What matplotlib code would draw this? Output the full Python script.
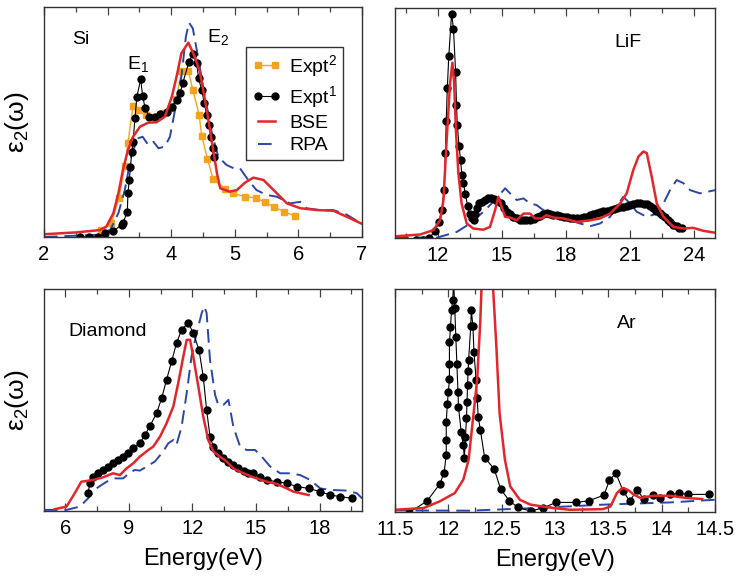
# eps2 spectra: Si, LiF, diamond, Ar  (expt vs BSE vs RPA)
import matplotlib
matplotlib.use('Agg')
import matplotlib.pyplot as plt
from matplotlib.ticker import MultipleLocator, FuncFormatter

plt.rcParams['font.family'] = ['Liberation Sans', 'DejaVu Sans']
plt.rcParams['mathtext.fontset'] = 'custom'
plt.rcParams['mathtext.rm'] = 'Liberation Sans'
plt.rcParams['mathtext.it'] = 'Liberation Sans:italic'

RED = '#e3262b'
BLUE = '#2b46a8'
ORANGE = '#f5a31f'

# ---- Si (arb. units, 0-100 = full axis height)
si_ex2_x = [2.90, 3.06, 3.18, 3.27, 3.32, 3.40, 3.48, 3.60, 3.74, 3.87, 3.99, 4.08, 4.16, 4.27,
            4.34, 4.44, 4.48, 4.57, 4.66, 4.85, 4.97, 5.16, 5.33, 5.48, 5.62, 5.78, 5.95]
si_ex2_y = [3, 6, 17, 31, 41, 57, 55, 53, 52, 54, 56, 60, 72, 72,
            64, 53, 44, 34, 25, 21, 19, 17.5, 17, 15, 13, 11, 9]
si_ex1_x = [2.56, 2.71, 2.85, 2.96, 3.09, 3.22, 3.24, 3.31, 3.32, 3.34, 3.36, 3.38, 3.40, 3.43,
            3.46, 3.52, 3.55, 3.59, 3.65, 3.74, 3.82, 3.93, 4.01, 4.09, 4.14, 4.18, 4.28, 4.34,
            4.40, 4.43, 4.48, 4.52, 4.56, 4.60, 4.62, 4.65, 4.67]
si_ex1_y = [0, 0, 0.2, 1.6, 2.6, 5.2, 6, 11, 19, 24.8, 30.6, 37, 41.2, 51.6,
            61, 68.6, 61.4, 56, 52.3, 52, 53.3, 54.5, 56.7, 59.6, 62.5, 66.8, 76.2, 79.6,
            75.5, 69, 63.9, 58.1, 53, 48.7, 43.6, 38.6, 34.9]
si_bse_x = [2.0, 2.51, 2.88, 2.98, 3.09, 3.17, 3.24, 3.32, 3.40, 3.51, 3.64, 3.77, 3.90, 4.01,
            4.09, 4.16, 4.27, 4.37, 4.45, 4.56, 4.66, 4.72, 4.77, 4.92, 5.03, 5.16, 5.29, 5.45,
            5.61, 5.82, 6.03, 6.29, 6.55, 6.76, 7.0]
si_bse_y = [1.2, 2, 3, 4.5, 10.3, 19, 29, 37.8, 43.6, 48, 49.7, 49.9, 52.3, 61,
            70.4, 79.9, 84.5, 78.4, 71.9, 55.2, 37.8, 27.7, 21.2, 19.7, 20.4, 23.6, 25.8, 24.8,
            20.4, 14.6, 12.5, 11.7, 11.4, 8.8, 5.7]
si_rpa_x = [2.0, 2.88, 3.04, 3.17, 3.27, 3.38, 3.48, 3.55, 3.64, 3.72, 3.80, 3.90, 3.98, 4.06,
            4.16, 4.23, 4.28, 4.34, 4.43, 4.53, 4.64, 4.74, 4.87, 4.98, 5.08, 5.21, 5.34, 5.50,
            5.66, 5.87, 6.03, 6.13, 6.34, 6.55, 6.76, 7.0]
si_rpa_y = [0, 1, 3, 10.4, 20.4, 36.4, 42.9, 43.6, 40, 41.4, 38.6, 39.3, 43.6, 55.2,
            69.7, 87, 93.2, 90.7, 77, 61, 45.1, 34.9, 31.3, 29.9, 29.9, 24.8, 20.4, 18.3,
            17.5, 14.6, 15.3, 12.5, 11.7, 11.7, 9.7, 5.7]

# ---- LiF
lif_ex1_x = [11.0, 11.3, 11.6, 11.88, 12.05, 12.2, 12.3, 12.36, 12.4, 12.45, 12.52, 12.65, 12.74,
             12.84, 12.88, 12.92, 13.0, 13.07, 13.13, 13.2, 13.3, 13.4, 13.5, 13.6, 13.68, 13.76,
             13.85, 13.95, 14.06, 14.2, 14.37, 14.5, 14.65, 14.8, 14.95, 15.1, 15.25, 15.4, 15.55,
             15.7, 15.86, 16.0, 16.15, 16.33, 16.5, 16.65, 16.8, 16.95, 17.1, 17.25, 17.4, 17.58,
             17.75, 17.9, 18.05, 18.2, 18.35, 18.52, 18.7, 18.85, 19.0, 19.15, 19.3, 19.46, 19.6,
             19.75, 19.93, 20.1, 20.25, 20.4, 20.55, 20.7, 20.86, 21.0, 21.15, 21.33, 21.5, 21.65,
             21.8, 21.95, 22.1, 22.25, 22.4, 22.5, 22.65, 22.8, 22.9, 23.05, 23.2, 23.3, 23.44]
lif_ex1_y = [-1, -1, 0, 3, 7, 12, 21, 37, 51, 65, 79, 97.5, 91,
             72, 58, 49, 40, 34, 27.5, 24, 19, 14, 10.5, 8.5, 8, 10.5,
             13, 15, 15.8, 16.5, 17.3, 17.5, 16.8, 16, 15, 13, 11.4, 10.3, 9.3,
             8.5, 7.8, 7.7, 7.7, 7.8, 8.4, 9, 9.5, 10.3, 10.7, 10.4, 10.1, 10,
             9.6, 9.3, 9.3, 8.8, 8.6, 8.6, 8.9, 9.1, 9.3, 9.9, 10.3, 10.7, 11.2,
             11.6, 11.9, 12.3, 12.6, 12.9, 13.3, 13.6, 13.9, 14.4, 14.8, 15.1, 15, 14.9,
             14.6, 13.9, 12.9, 11.8, 10.8, 10, 9, 7.8, 7, 5.8, 5, 4.5, 4.2]
lif_bse_x = [10.0, 11.17, 11.8, 12.11, 12.27, 12.42, 12.58, 12.69, 12.77, 12.86, 12.97, 13.12,
             13.36, 13.67, 14.14, 14.45, 14.69, 14.84, 15.0, 15.16, 15.39, 15.7, 16.02, 16.33,
             16.56, 16.88, 17.1, 17.42, 17.89, 18.52, 19.14, 19.61, 20.08, 20.55, 20.86, 21.17,
             21.41, 21.64, 21.8, 22.03, 22.27, 22.58, 23.05, 23.52, 23.98, 24.45, 25.0]
lif_bse_y = [0.7, 1.5, 3.4, 7.7, 16.5, 42.7, 67.5, 76.2, 67.5, 45.6, 28.1, 15,
             6.3, 4.1, 3.6, 4.8, 12.1, 17.9, 13.6, 9.2, 8.9, 7.7, 10.6, 10.6,
             8.5, 8.5, 9.9, 8.9, 8.5, 7, 7.7, 8.5, 10.6, 15, 19.4, 29.6,
             35.4, 37.6, 36.9, 26.7, 15, 9.2, 4.8, 4.1, 4.4, 3.1, 2.3]
lif_rpa_x = [10.0, 11.95, 12.89, 13.52, 14.14, 14.69, 15.16, 15.39, 15.7, 16.02, 16.33, 16.64,
             16.95, 17.34, 17.73, 18.2, 18.67, 19.14, 19.61, 20.08, 20.39, 20.7, 21.02, 21.33,
             21.8, 22.27, 22.58, 22.89, 23.2, 23.52, 23.83, 24.3, 25.0]
lif_rpa_y = [0.4, 0.1, 2.6, 6.3, 11.4, 16.5, 21.6, 19.4, 16.5, 17.2, 15, 14.3,
             12.1, 10.6, 9.2, 7.7, 6.3, 5.1, 6.3, 9.2, 13.6, 17.9, 15, 11.4,
             9.2, 10.6, 15, 20.8, 25.2, 23.8, 20.8, 19.4, 20.8]

# ---- Diamond
dia_ex1_x = [7.08, 7.16, 7.32, 7.55, 7.79, 8.02, 8.26, 8.5, 8.73, 8.97, 9.21, 9.52, 9.76, 10.0,
             10.31, 10.55, 10.78, 11.02, 11.25, 11.49, 11.81, 12.04, 12.31, 12.51, 12.67, 12.83,
             12.99, 13.22, 13.46, 13.7, 13.93, 14.17, 14.41, 14.64, 14.88, 15.2, 15.51, 15.98,
             16.45, 16.93, 17.48, 18.03, 18.5, 18.98, 19.53]
dia_ex1_y = [8, 12.5, 15.5, 17, 18.5, 20, 21.5, 23, 24.5, 26, 28.3, 30.5, 34.3, 38.3,
             44.1, 50.8, 59.1, 67.4, 75.6, 81.7, 84.7, 80.2, 72.6, 60.6, 45.6, 33.5,
             29, 26, 23.8, 22.3, 20.8, 19.2, 18.2, 17.3, 17, 15.5, 14, 13.2,
             12.5, 11, 10.2, 8.7, 7.2, 6.5, 5.7]
dia_bse_x = [5.5, 6.06, 6.45, 6.76, 7.32, 7.79, 8.26, 8.58, 8.89, 9.21, 9.52, 9.92, 10.15, 10.47,
             10.78, 11.1, 11.33, 11.54, 11.73, 11.89, 12.04, 12.28, 12.51, 12.75, 12.99, 13.3,
             13.62, 13.93, 14.41, 14.88, 15.51, 15.98, 16.45, 16.77, 17.48]
dia_bse_y = [0.8, 2, 8, 13.2, 14, 15.2, 17, 16.2, 19.2, 21.5, 24.5, 27.5, 29, 33.5,
             39.5, 47.1, 57.6, 68.1, 77.1, 77.1, 69.6, 56.1, 42.6, 32, 26.8, 24.5,
             22.3, 19.2, 17, 15.2, 13.2, 12.2, 10.2, 8.7, 7.2]
dia_rpa_x = [5.0, 6.06, 6.69, 7.08, 7.47, 7.95, 8.34, 8.73, 9.05, 9.29, 9.52, 9.84, 10.23, 10.62,
             10.86, 11.1, 11.25, 11.49, 11.73, 11.96, 12.2, 12.44, 12.56, 12.67, 12.83, 13.07,
             13.22, 13.46, 13.7, 13.93, 14.25, 14.56, 14.96, 15.27, 15.67, 16.14, 16.61, 17.08,
             17.56, 18.03, 18.5, 19.29, 19.76, 20.0]
dia_rpa_y = [0.5, 0.5, 2, 5.7, 10.2, 13.2, 14.7, 14.7, 17.3, 18.5, 18.2, 20, 22.3, 26.8,
             30.5, 32, 29.8, 38, 53.1, 69.6, 80.2, 89.2, 92.2, 89.2, 68.1, 52.3,
             47.8, 47.8, 50.1, 38, 29, 27.5, 27.5, 24.5, 20, 17, 17, 16.2,
             14, 10.2, 9.5, 9.2, 8, 5.7]

# ---- Ar
ar_ex1_x = [11.63, 11.8, 11.92, 11.96, 11.98, 11.98, 11.98, 11.99, 12.0, 12.01, 12.01, 12.01,
            12.02, 12.03, 12.04, 12.05, 12.06, 12.07, 12.08, 12.09, 12.095, 12.12, 12.14, 12.15,
            12.16, 12.17, 12.175, 12.18, 12.185, 12.19, 12.21, 12.215, 12.23, 12.24, 12.26,
            12.27, 12.28, 12.3, 12.34, 12.43, 12.49, 12.57, 12.65, 12.77, 12.89, 13.01, 13.2,
            13.32, 13.46, 13.51, 13.57, 13.64, 13.7, 13.77, 13.83, 13.92, 13.98, 14.08, 14.16,
            14.25, 14.44]
ar_ex1_y = [-0.3, 4.9, 12.6, 17.6, 25.6, 32.3, 40.2, 48.3, 53.9, 59.5, 66.2, 76.1,
            83.1, 90.6, 95, 103, 91.3, 78.6, 66.2, 53.9, 47.2, 36, 30, 24.1,
            33.8, 42, 49.5, 57, 63.4, 68.2, 83.5, 90.5, 83.5, 71.9, 59.2,
            51, 42.7, 36.8, 24.4, 19.3, 10.3, 5.1, 2.1, 0.4, 1.9, 4.3, 4.3,
            5.1, 7.6, 14.3, 17.4, 9.3, 4.9, 9.9, 5.8, 7.6, 6.1, 7.9, 8.4,
            7.9, 7.9]
ar_bse_x = [11.5, 11.77, 11.92, 12.06, 12.14, 12.19, 12.23, 12.27, 12.3, 12.31, 12.36, 12.42,
            12.45, 12.48, 12.53, 12.58, 12.67, 12.77, 12.98, 13.14, 13.45, 13.52, 13.58, 13.63,
            13.68, 13.74, 13.8, 13.92, 14.08, 14.23, 14.38]
ar_bse_y = [1, 1.8, 4.8, 8.5, 14.5, 23.5, 41.4, 59.3, 86.2, 99.7, 160, 99.7,
            74.3, 44.4, 23.5, 11.5, 5.5, 3.3, 1.8, 1, 1.3, 2.5, 8.5, 10.8,
            10, 7.8, 6.3, 7.3, 7.3, 6.3, 5.8]
ar_rpa_x = [11.5, 12.2, 12.83, 13.45, 14.08, 14.5]
ar_rpa_y = [0.7, 0.6, 1.8, 3.3, 4.3, 5.5]


def style(ax, xlim, major, minor):
    ax.set_xlim(xlim)
    ax.set_ylim(0, 100)
    ax.set_yticks([])
    ax.xaxis.set_major_locator(MultipleLocator(major))
    ax.xaxis.set_minor_locator(MultipleLocator(minor))
    ax.xaxis.set_major_formatter(FuncFormatter(lambda v, p: '%g' % v))
    ax.tick_params(axis='x', which='both', direction='in', top=True, labelsize=14.5,
                   pad=6, color='#444444', width=0.9)
    ax.tick_params(axis='x', which='major', length=6)
    ax.tick_params(axis='x', which='minor', length=3.5)
    for s in ax.spines.values():
        s.set_color('#333333')
        s.set_linewidth(1.0)


def draw(ax, rx, ry, bx, by, ex, ey):
    ax.plot(rx, ry, color=BLUE, lw=1.4, dashes=(7, 3.5), label='RPA')
    ax.plot(ex, ey, color='black', lw=0.8, marker='o', ms=5, label='Expt$^1$')
    ax.plot(bx, by, color=RED, lw=1.8, label='BSE')


fig = plt.figure(figsize=(7.37, 5.79), dpi=100)
ax1 = fig.add_axes([0.0597, 0.5907, 0.4315, 0.3972])
ax2 = fig.add_axes([0.536, 0.589, 0.4342, 0.3972])
ax3 = fig.add_axes([0.0597, 0.1174, 0.4315, 0.3834])
ax4 = fig.add_axes([0.536, 0.1157, 0.4342, 0.3851])

# Si
ax1.plot(si_ex2_x, si_ex2_y, color=ORANGE, lw=1.0, marker='s', ms=4.5, label='Expt$^2$')
draw(ax1, si_rpa_x, si_rpa_y, si_bse_x, si_bse_y, si_ex1_x, si_ex1_y)
style(ax1, (2, 7), 1, 0.5)
h, l = ax1.get_legend_handles_labels()
order = [l.index('Expt$^2$'), l.index('Expt$^1$'), l.index('BSE'), l.index('RPA')]
ax1.legend([h[i] for i in order], [l[i] for i in order], loc='upper right',
           bbox_to_anchor=(0.94, 0.826), borderaxespad=0, fontsize=14, numpoints=2,
           fancybox=False, edgecolor='#333333', framealpha=1, labelspacing=0.25,
           borderpad=0.3, handlelength=1.5, handletextpad=0.4)
ax1.text(0.088, 0.857, 'Si', transform=ax1.transAxes, fontsize=14, va='center')
ax1.text(0.296, 0.752, r'$\mathregular{E_1}$', transform=ax1.transAxes, fontsize=14,
         ha='center', va='center')
ax1.text(0.547, 0.870, r'$\mathregular{E_2}$', transform=ax1.transAxes, fontsize=14,
         ha='center', va='center')
ax1.set_ylabel(r'$\mathregular{ε_2(ω)}$', fontsize=19, labelpad=9)

# LiF
draw(ax2, lif_rpa_x, lif_rpa_y, lif_bse_x, lif_bse_y, lif_ex1_x, lif_ex1_y)
style(ax2, (10, 25), 3, 1.5)
ax2.text(0.728, 0.848, 'LiF', transform=ax2.transAxes, fontsize=14, ha='center', va='center')

# Diamond
draw(ax3, dia_rpa_x, dia_rpa_y, dia_bse_x, dia_bse_y, dia_ex1_x, dia_ex1_y)
style(ax3, (5, 20), 3, 1.5)
ax3.text(0.2, 0.81, 'Diamond', transform=ax3.transAxes, fontsize=14, ha='center', va='center')
ax3.set_ylabel(r'$\mathregular{ε_2(ω)}$', fontsize=19, labelpad=9)
ax3.set_xlabel('Energy(eV)', fontsize=17, labelpad=7)

# Ar
draw(ax4, ar_rpa_x, ar_rpa_y, ar_bse_x, ar_bse_y, ar_ex1_x, ar_ex1_y)
style(ax4, (11.5, 14.5), 0.5, 0.25)
ax4.text(0.724, 0.846, 'Ar', transform=ax4.transAxes, fontsize=14, ha='center', va='center')
ax4.set_xlabel('Energy(eV)', fontsize=17, labelpad=7)

fig.savefig('out.png', dpi=100)
